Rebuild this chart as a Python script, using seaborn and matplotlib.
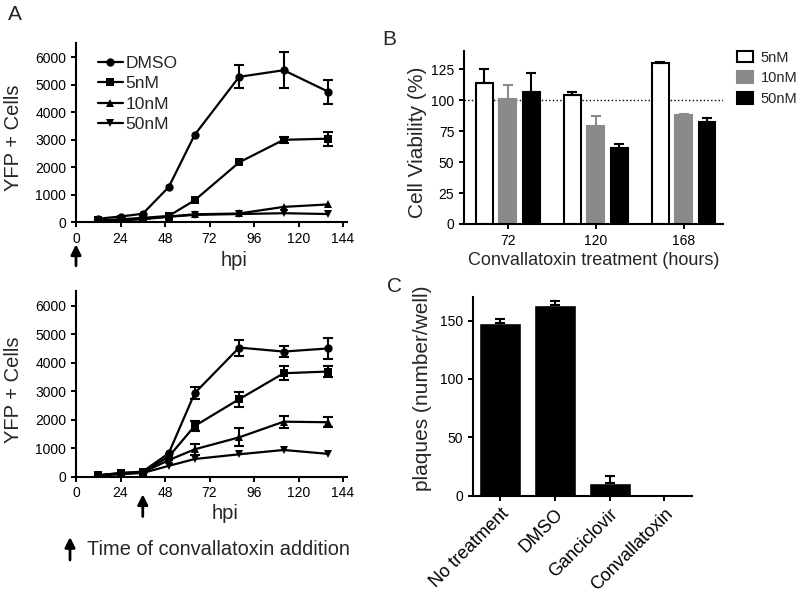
import numpy as np
import pandas as pd
import seaborn as sns
import matplotlib.pyplot as plt
from matplotlib.patches import Patch

# ---- data ----
hpi = [12, 24, 36, 50, 64, 88, 112, 136]
series = ['DMSO', '5nM', '10nM', '50nM']
marker_map = {'DMSO': 'o', '5nM': 's', '10nM': '^', '50nM': 'v'}

# panel A (top): drug added at 0 hpi
top_dmso = [120, 200, 300, 1270, 3170, 5280, 5520, 4740]
top_dmso_err = [0, 0, 0, 0, 0, 420, 650, 440]
top_5nm = [60, 100, 150, 220, 790, 2170, 2990, 3030]
top_5nm_err = [0, 0, 0, 0, 0, 0, 110, 250]
top_10nm = [40, 80, 120, 200, 280, 310, 550, 640]
top_10nm_err = [0, 0, 0, 0, 0, 0, 0, 0]
top_50nm = [30, 60, 100, 190, 260, 290, 320, 290]
top_50nm_err = [0, 0, 0, 0, 0, 0, 0, 0]

# panel A (bottom): drug added at 36 hpi
bot_dmso = [50, 120, 180, 820, 2930, 4530, 4390, 4500]
bot_dmso_err = [0, 0, 0, 0, 220, 280, 205, 380]
bot_5nm = [50, 130, 170, 700, 1780, 2720, 3630, 3690]
bot_5nm_err = [0, 0, 0, 0, 175, 263, 245, 205]
bot_10nm = [45, 100, 150, 580, 960, 1380, 1930, 1910]
bot_10nm_err = [0, 0, 0, 0, 200, 320, 205, 175]
bot_50nm = [40, 90, 130, 380, 620, 786, 937, 800]
bot_50nm_err = [0, 0, 0, 0, 0, 0, 0, 0]

# panel B
hours = ['72', '120', '168']
conc = ['5nM', '10nM', '50nM']
viab_5nm = [114, 104, 130]
viab_5nm_err = [11, 2.5, 0.8]
viab_10nm = [101, 79, 88]
viab_10nm_err = [11, 8, 0.5]
viab_50nm = [107, 61, 82]
viab_50nm_err = [15, 4, 4]

# panel C
treatments = ['No treatment', 'DMSO', 'Ganciclovir', 'Convallatoxin']
plaques = [148, 163, 10.5, 0]
plaques_err = [3, 4, 6.5, 0]

# ---- style ----
sns.set_style('ticks')
plt.rcParams['font.family'] = ['Liberation Sans', 'DejaVu Sans']
plt.rcParams['axes.linewidth'] = 1.5
plt.rcParams['xtick.major.width'] = 1.4
plt.rcParams['ytick.major.width'] = 1.4
plt.rcParams['xtick.major.size'] = 3.5
plt.rcParams['ytick.major.size'] = 3.5
plt.rcParams['xtick.labelsize'] = 10
plt.rcParams['ytick.labelsize'] = 10
plt.rcParams['xtick.color'] = 'black'
plt.rcParams['ytick.color'] = 'black'
plt.rcParams['axes.edgecolor'] = 'black'

fig = plt.figure(figsize=(8, 5.96), dpi=100)

ax_top = fig.add_axes([0.095, 0.6275, 0.3384, 0.2999])
ax_bot = fig.add_axes([0.095, 0.2002, 0.3384, 0.3108])
ax_b = fig.add_axes([0.58, 0.6242, 0.3238, 0.2908])
ax_c = fig.add_axes([0.5909, 0.1683, 0.2738, 0.3329])


def growth_panel(ax, vals, errs, legend):
    df = pd.concat([pd.DataFrame({'hpi': hpi, 'cells': v, 'err': e, 'treatment': s})
                    for s, v, e in zip(series, vals, errs)], ignore_index=True)
    sns.lineplot(data=df, x='hpi', y='cells', style='treatment', style_order=series,
                 markers=marker_map, dashes=False, color='black', linewidth=1.6,
                 markersize=6, markeredgewidth=0, ax=ax, legend=legend)
    sub = df[df['err'] > 0]
    ax.errorbar(sub['hpi'], sub['cells'], yerr=sub['err'], fmt='none', ecolor='black',
                elinewidth=1.5, capsize=3.8, capthick=1.5, zorder=3)
    ax.set_xlim(0, 146)
    ax.set_ylim(0, 6500)
    ax.set_xticks(range(0, 145, 24))
    ax.set_yticks(range(0, 6001, 1000))
    ax.set_ylabel('YFP + Cells', fontsize=14.5)
    ax.set_xlabel('hpi', fontsize=14.5)
    sns.despine(ax=ax)
    if legend:
        h, l = ax.get_legend_handles_labels()
        ax.legend(h, l, loc='upper left', bbox_to_anchor=(0.08, 0.93), frameon=False,
                  fontsize=12.5, handlelength=1.45, handletextpad=0.15,
                  labelspacing=0.3, borderpad=0, borderaxespad=0)


growth_panel(ax_top, [top_dmso, top_5nm, top_10nm, top_50nm],
             [top_dmso_err, top_5nm_err, top_10nm_err, top_50nm_err], True)
growth_panel(ax_bot, [bot_dmso, bot_5nm, bot_10nm, bot_50nm],
             [bot_dmso_err, bot_5nm_err, bot_10nm_err, bot_50nm_err], False)

ax_top.yaxis.set_label_coords(-0.196, 0.47)
ax_bot.yaxis.set_label_coords(-0.196, 0.47)
ax_top.xaxis.set_label_coords(0.584, -0.16)
ax_bot.xaxis.set_label_coords(0.55, -0.15)

# arrows marking convallatoxin addition
arrow = dict(arrowstyle='-|>', color='black', lw=2, mutation_scale=15,
             shrinkA=0, shrinkB=0)
ax_top.annotate('', xy=(0, -0.125), xytext=(0, -0.245),
                xycoords=('data', 'axes fraction'), arrowprops=arrow, annotation_clip=False)
ax_bot.annotate('', xy=(36, -0.095), xytext=(36, -0.215),
                xycoords=('data', 'axes fraction'), arrowprops=arrow, annotation_clip=False)
ax_bot.annotate('', xy=(70 / 800, 1 - 537 / 596), xytext=(70 / 800, 1 - 560 / 596),
                xycoords='figure fraction', arrowprops=arrow, annotation_clip=False)
fig.text(87 / 800, 1 - 555 / 596, 'Time of convallatoxin addition', fontsize=14.4,
         va='baseline')

# ---- panel B ----
dfb = pd.concat([pd.DataFrame({'hours': hours, 'viability': v, 'err': e, 'conc': c})
                 for c, v, e in zip(conc, [viab_5nm, viab_10nm, viab_50nm],
                                    [viab_5nm_err, viab_10nm_err, viab_50nm_err])],
                ignore_index=True)
fills = ['white', '#8a8a8a', 'black']
edges = ['black', '#8a8a8a', 'black']
sns.barplot(data=dfb, x='hours', y='viability', hue='conc', order=hours, hue_order=conc,
            palette=fills, saturation=1, gap=0.28, width=0.8, errorbar=None,
            legend=False, ax=ax_b)
for cont, ec, c in zip(ax_b.containers, edges, conc):
    xs, hs = [], []
    for bar in cont:
        bar.set_edgecolor(ec)
        bar.set_linewidth(1.5)
        xs.append(bar.get_x() + bar.get_width() / 2)
        hs.append(bar.get_height())
    e = dfb.loc[dfb['conc'] == c, 'err'].to_numpy()
    ax_b.errorbar(xs, hs, yerr=[np.zeros(len(e)), e], fmt='none', ecolor=ec,
                  elinewidth=1.5, capsize=3.8, capthick=1.5, zorder=3)
ax_b.axhline(100, color='black', ls=':', lw=1, zorder=0.5)
ax_b.set_xlim(-0.5, 2.45)
ax_b.set_ylim(0, 140)
ax_b.set_yticks(range(0, 126, 25))
ax_b.set_ylabel('Cell Viability (%)', fontsize=15)
ax_b.set_xlabel('Convallatoxin treatment (hours)', fontsize=13)
ax_b.yaxis.set_label_coords(-0.143, 0.47)
ax_b.xaxis.set_label_coords(0.5, -0.16)
sns.despine(ax=ax_b)
ax_b.legend(handles=[Patch(facecolor=f, edgecolor=e, linewidth=1.5) for f, e in zip(fills, edges)],
            labels=conc, loc='upper left', bbox_to_anchor=(1.055, 1.0), frameon=False,
            fontsize=10.5, handlelength=1.1, handleheight=0.85, handletextpad=0.5,
            labelspacing=0.45, borderpad=0, borderaxespad=0)

# ---- panel C ----
sns.barplot(x=treatments, y=plaques, color='black', saturation=1, width=0.77,
            errorbar=None, ax=ax_c)
bars = list(ax_c.containers[0])
cx = [b.get_x() + b.get_width() / 2 for b in bars]
keep = [i for i, e in enumerate(plaques_err) if e > 0]
ax_c.errorbar([cx[i] for i in keep], [plaques[i] for i in keep],
              yerr=[[0] * len(keep), [plaques_err[i] for i in keep]], fmt='none',
              ecolor='black', elinewidth=1.5, capsize=3.8, capthick=1.5, zorder=3)
ax_c.set_xlim(-0.5, 3.5)
ax_c.set_ylim(0, 170)
ax_c.set_yticks([0, 50, 100, 150])
ax_c.set_ylabel('plaques (number/well)', fontsize=15)
ax_c.yaxis.set_label_coords(-0.187, 0.543)
plt.setp(ax_c.get_xticklabels(), rotation=45, ha='right', rotation_mode='anchor',
         fontsize=13)
sns.despine(ax=ax_c)

# panel letters
fig.text(8 / 800, 1 - 20 / 596, 'A', fontsize=15, va='baseline')
fig.text(382 / 800, 1 - 45 / 596, 'B', fontsize=15, va='baseline')
fig.text(387 / 800, 1 - 292 / 596, 'C', fontsize=15, va='baseline')

fig.savefig('out.png', dpi=100)
